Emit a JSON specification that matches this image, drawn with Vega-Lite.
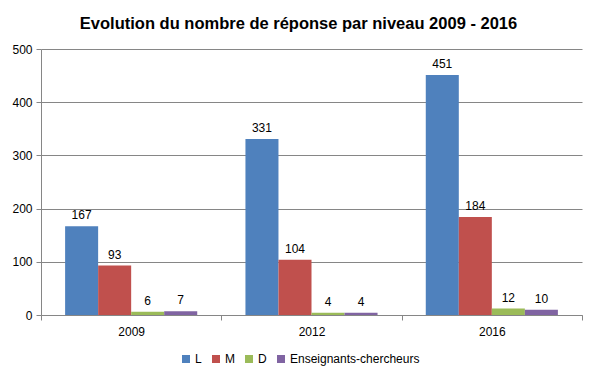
{
  "$schema": "https://vega.github.io/schema/vega-lite/v6.json",
  "autosize": "none",
  "width": 541,
  "height": 266,
  "padding": {"left": 41, "top": 49, "right": 15, "bottom": 66},
  "background": "white",
  "title": {
    "text": "Evolution du nombre de réponse par niveau 2009 - 2016",
    "font": "Liberation Sans",
    "fontSize": 16.5,
    "fontWeight": "bold",
    "color": "#000000",
    "anchor": "middle",
    "dx": -13,
    "offset": 11
  },
  "data": {
    "values": [
      {"annee": "2009", "niveau": "L", "n": 167},
      {"annee": "2009", "niveau": "M", "n": 93},
      {"annee": "2009", "niveau": "D", "n": 6},
      {"annee": "2009", "niveau": "Enseignants-chercheurs", "n": 7},
      {"annee": "2012", "niveau": "L", "n": 331},
      {"annee": "2012", "niveau": "M", "n": 104},
      {"annee": "2012", "niveau": "D", "n": 4},
      {"annee": "2012", "niveau": "Enseignants-chercheurs", "n": 4},
      {"annee": "2016", "niveau": "L", "n": 451},
      {"annee": "2016", "niveau": "M", "n": 184},
      {"annee": "2016", "niveau": "D", "n": 12},
      {"annee": "2016", "niveau": "Enseignants-chercheurs", "n": 10}
    ]
  },
  "encoding": {
    "x": {
      "field": "annee", "type": "nominal",
      "scale": {"paddingInner": 0, "paddingOuter": 0},
      "axis": {
        "title": null, "labelAngle": 0, "tickBand": "extent",
        "domainColor": "#868686", "tickColor": "#868686", "tickSize": 5,
        "labelFont": "Liberation Sans", "labelFontSize": 12, "labelColor": "#000000",
        "labelPadding": 6
      }
    },
    "xOffset": {
      "field": "niveau", "type": "nominal",
      "sort": ["L", "M", "D", "Enseignants-chercheurs"],
      "scale": {"paddingInner": 0, "paddingOuter": 0.73}
    },
    "y": {
      "field": "n", "type": "quantitative",
      "scale": {"domain": [0, 500], "nice": false},
      "axis": {
        "title": null, "values": [0, 100, 200, 300, 400, 500],
        "domainColor": "#868686", "tickColor": "#868686", "tickSize": 5,
        "gridColor": "#868686", "labelFont": "Liberation Sans", "labelFontSize": 12,
        "labelColor": "#000000", "labelPadding": 4
      }
    }
  },
  "layer": [
    {
      "mark": {"type": "bar"},
      "encoding": {
        "color": {
          "field": "niveau", "type": "nominal",
          "sort": ["L", "M", "D", "Enseignants-chercheurs"],
          "scale": {
            "domain": ["L", "M", "D", "Enseignants-chercheurs"],
            "range": ["#4F81BD", "#C0504D", "#9BBB59", "#8064A2"]
          },
          "legend": {
            "title": null, "orient": "none", "legendX": 139, "legendY": 304,
            "direction": "horizontal",
            "symbolType": "square", "symbolSize": 64, "symbolStrokeWidth": 0,
            "symbolOpacity": 1,
            "labelFont": "Liberation Sans", "labelFontSize": 12, "labelColor": "#000000",
            "labelOffset": 3, "columnPadding": 8
          }
        }
      }
    },
    {
      "mark": {"type": "text", "dy": -11, "font": "Liberation Sans", "fontSize": 12, "color": "#000000"},
      "encoding": {"text": {"field": "n", "type": "quantitative"}}
    }
  ],
  "config": {"view": {"stroke": null}}
}
